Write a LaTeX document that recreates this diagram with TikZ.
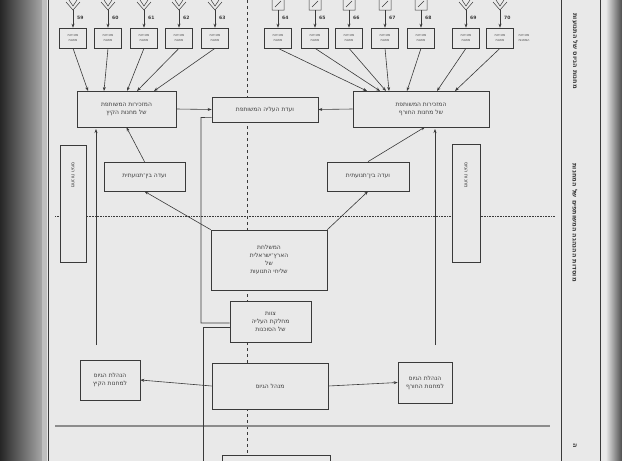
\documentclass[tikz,border=0pt]{standalone}
\usepackage{fontspec}
\setmainfont{DejaVu Sans}
\usetikzlibrary{arrows.meta}
\TeXXeTstate=1
\newcommand{\RL}[1]{\beginR #1\endR}
\definecolor{paper}{HTML}{E9E9E9}
\definecolor{ink}{HTML}{3A3A3A}
\begin{document}
\begin{tikzpicture}[x=1pt,y=-1pt,
  bx/.style={draw=ink,line width=0.7pt,fill=paper,align=center,font=\fontsize{6}{8}\selectfont,text=ink,inner sep=0pt},
  sm/.style={draw=ink,line width=0.6pt,fill=paper,align=center,font=\fontsize{3.3}{4.5}\selectfont,text=ink,minimum width=27pt,minimum height=20pt,inner sep=0pt},
  ar/.style={draw=ink,line width=0.6pt,-{Stealth[length=4pt,width=3pt]}},
  ln/.style={draw=ink,line width=0.6pt},
  num/.style={font=\fontsize{4.5}{5}\selectfont\bfseries,text=ink,inner sep=0pt}]
\useasboundingbox (0,0) rectangle (622,461);
\fill[paper] (0,0) rectangle (622,461);
\shade[left color=black!85,right color=black!35] (0,0) rectangle (42,461);
\fill[black!25] (42,0) rectangle (47,461);
\shade[left color=black!10,right color=black!70] (606,0) rectangle (622,461);
\draw[ink,line width=0.8pt] (48,0) -- (48,461);
\draw[ink,line width=0.8pt] (561,0) -- (561,461);
\draw[ink,line width=0.6pt] (600,0) -- (600,461);
% dashed / dotted guides
\draw[ink,dashed,line width=0.6pt] (247,0) -- (247,461);
\draw[ink,densely dotted,line width=0.6pt] (55,216) -- (555,216);
\draw[black!45,line width=2.5pt] (55,426) -- (550,426);
% small secretariats
\foreach \n/\c/\s in {59/73/l,60/108/l,61/144/l,62/179/l,63/215/l,64/278/r,65/315/r,66/349/r,67/385/r,68/421/r,69/466/l,70/500/l}{
  \node[sm] (s\n) at (\c,38) {\RL{מזכירות}\\\RL{מחנות}};
  \coordinate (i\n) at (\c,10);
  \if\s l
    \draw[ink,line width=0.5pt] (\c-7,2) -- (\c,10) -- (\c+7,2) (\c-4,0)--(\c,6)--(\c+4,0);
  \else
    \draw[ink,line width=0.5pt] (\c-6,-1) rectangle (\c+6,10) (\c-3,7)--(\c+3,1);
  \fi
  \draw[ar] (i\n) -- (s\n.north);
  \node[num,anchor=west] at (\c+4,18) {\n};
}
\node[font=\fontsize{3.3}{4.5}\selectfont,text=ink,align=center,anchor=west] at (515,38) {\RL{מזכירות}\\\RL{המחנות}};
% main boxes
\node[bx,minimum width=99pt,minimum height=36pt] (lsec) at (126.5,109) {\RL{המזכירות המשותפת}\\\RL{של מחנות הקיץ}};
\node[bx,minimum width=136pt,minimum height=36pt] (rsec) at (421,109) {\RL{המזכירות המשותפת}\\\RL{של מחנות החורף}};
\node[bx,minimum width=106pt,minimum height=25pt] (com) at (265,109.5) {\RL{ועדת העליה המשותפת}};
\node[bx,minimum width=81pt,minimum height=29pt] (lint) at (144.5,176.5) {\RL{ועדה בין־תנועתית}};
\node[bx,minimum width=82pt,minimum height=29pt] (rint) at (368,176.5) {\RL{ועדה בין־תנועתית}};
\node[bx,minimum width=116pt,minimum height=60pt] (mis) at (269,260) {\RL{המשלחת}\\\RL{הארץ־ישראלית}\\\RL{של}\\\RL{שליחי התנועות}};
\node[bx,minimum width=81pt,minimum height=41pt] (staff) at (270.5,321.5) {\RL{צוות}\\\RL{מחלקת העליה}\\\RL{של הסוכנות}};
\node[bx,minimum width=60pt,minimum height=40pt] (lrec) at (110,380) {\RL{הנהלת הגיוס}\\\RL{למחנות הקיץ}};
\node[bx,minimum width=54pt,minimum height=41pt] (rrec) at (425,382.5) {\RL{הנהלת הגיוס}\\\RL{למחנות החורף}};
\node[bx,minimum width=116pt,minimum height=46pt] (mgr) at (270,386) {\RL{מנהל הגיוס}};
\node[bx,minimum width=108pt,minimum height=14pt,anchor=north] (bot) at (276,455) {};
% tall boxes
\node[bx,minimum width=26pt,minimum height=117pt] (ltall) at (73,203.5) {};
\node[rotate=-90,font=\fontsize{5}{6}\selectfont,text=ink] at (73,175) {\RL{מחנות הגיוס}};
\node[bx,minimum width=28pt,minimum height=118pt] (rtall) at (466,203) {};
\node[rotate=-90,font=\fontsize{5}{6}\selectfont,text=ink] at (466,175) {\RL{מחנות הגיוס}};
% right margin titles
\node[rotate=-90,font=\fontsize{6.5}{7}\selectfont\bfseries,text=ink,anchor=west] at (575,10) {\RL{מחנות הגיוס של התנועות}};
\node[rotate=-90,font=\fontsize{6.5}{7}\selectfont\bfseries,text=ink,anchor=west] at (575,160) {\RL{מוסדות ההנהגה המשותפים של המחנות}};
\node[rotate=-90,font=\fontsize{6.5}{7}\selectfont\bfseries,text=ink,anchor=west] at (575,440) {\RL{ה}};
% arrows from small boxes
\foreach \n/\x in {59/88,60/104,61/127,62/137,63/154}{\draw[ar] (s\n.south) -- (\x,91);}
\foreach \n/\x in {64/367,65/380,66/386,67/389,68/407,69/437,70/455}{\draw[ar] (s\n.south) -- (\x,91);}
\draw[ar] (lsec.east) -- (com.west);
\draw[ar] (rsec.west) -- (com.east);
\draw[ar] (lint.north) -- (lsec.south);
\draw[ar] (rint.north) -- (425,127);
\draw[ar] (mis.north west) -- (lint.south);
\draw[ar] (mis.north east) -- (rint.south);
\draw[ar] (96,345) -- (96,129);
\draw[ar] (435,345) -- (435,129);
\draw[ar] (mgr.west) -- (lrec.east);
\draw[ar] (mgr.east) -- (rrec.west);
\draw[ln] (com.south west) ++(0,-5) -- (201,117.5) -- (201,323) -- (staff.west |- 0,323);
\draw[ln] (staff.west |- 0,327) -- (203,327) -- (203,461);
\end{tikzpicture}
\end{document}
